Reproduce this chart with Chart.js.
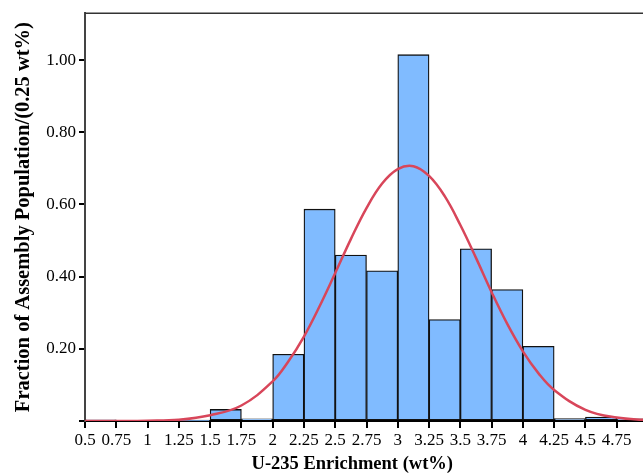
<!DOCTYPE html>
<html>
<head>
<meta charset="utf-8">
<script src="https://cdn.jsdelivr.net/npm/chart.js@4/dist/chart.umd.min.js"></script>
<style>
html,body{margin:0;padding:0;background:#fff;}
#wrap{width:643px;height:474px;position:relative;}
</style>
</head>
<body>
<div id="wrap"><canvas id="c" width="643" height="474"></canvas></div>
<script>
// Histogram bin centers (bin width 0.25 wt%)
const binCenters = [0.625,0.875,1.125,1.375,1.625,1.875,2.125,2.375,2.625,2.875,3.125,3.375,3.625,3.875,4.125,4.375,4.625,4.875];
const fractions  = [0.003,0,0,0.001,0.032,0.006,0.185,0.587,0.460,0.416,1.015,0.281,0.477,0.364,0.207,0.007,0.011,0.006];

// Fitted normal curve
const curveX = [0.5,0.75,1.0,1.25,1.5,1.75,2.0,2.125,2.25,2.375,2.5,2.625,2.75,2.875,3.0,3.125,3.25,3.375,3.5,3.625,3.75,3.875,4.0,4.125,4.25,4.5,4.75,5.0];
const curveY = [0.0,0.0001,0.0008,0.0035,0.016,0.043,0.110,0.165,0.234,0.318,0.410,0.504,0.590,0.658,0.698,0.706,0.679,0.623,0.543,0.452,0.357,0.269,0.193,0.132,0.086,0.031,0.0094,0.0023];

const xTicks = [0.5,0.75,1,1.25,1.5,1.75,2,2.25,2.5,2.75,3,3.25,3.5,3.75,4,4.25,4.5,4.75];
const yTicks = [0,0.2,0.4,0.6,0.8,1.0];

const xTitle = 'U-235 Enrichment (wt%)';
const yTitle = 'Fraction of Assembly Population/(0.25 wt%)';

const FONT = '"Liberation Serif", "Times New Roman", serif';

const framePlugin = {
  id: 'frame',
  afterDatasetsDraw(chart) {
    const {ctx, chartArea: a} = chart;
    ctx.save();
    ctx.strokeStyle = '#333';
    ctx.lineWidth = 1.5;
    ctx.beginPath();
    ctx.moveTo(a.left, a.top);
    ctx.lineTo(a.right, a.top);
    ctx.stroke();
    ctx.restore();
  },
  afterDraw(chart) {
    const {ctx} = chart;
    const xs = chart.scales.x;
    ctx.save();
    ctx.fillStyle = '#000';
    ctx.font = 'bold 18.5px ' + FONT;
    ctx.textAlign = 'center';
    ctx.textBaseline = 'middle';
    ctx.fillText(xTitle, xs.left + (xs.right - xs.left) * 0.479, 464);
    ctx.restore();
  }
};

new Chart(document.getElementById('c'), {
  data: {
    datasets: [
      {
        type: 'line',
        data: curveX.map((x, i) => ({x, y: curveY[i]})),
        borderColor: '#D8465A',
        borderWidth: 2.5,
        pointRadius: 0,
        tension: 0.4,
        fill: false,
        order: 0
      },
      {
        type: 'bar',
        data: binCenters.map((x, i) => ({x, y: fractions[i]})),
        backgroundColor: '#80BBFF',
        borderColor: '#111',
        borderWidth: 1.3,
        borderSkipped: false,
        barPercentage: 1,
        categoryPercentage: 1,
        order: 1
      }
    ]
  },
  options: {
    responsive: false,
    animation: false,
    layout: {padding: {top: 10, right: 0, left: 0, bottom: 0}},
    plugins: {legend: {display: false}, tooltip: {enabled: false}},
    scales: {
      x: {
        type: 'linear',
        offset: false,
        min: 0.5,
        max: 4.96,
        afterBuildTicks: s => { s.ticks = xTicks.map(v => ({value: v})); },
        afterFit: s => { s.height = 53; },
        grid: {display: true, offset: false, drawOnChartArea: false, drawTicks: true, tickLength: 7, color: '#000', lineWidth: 2},
        border: {display: true, color: '#000', width: 2},
        ticks: {
          color: '#000',
          padding: 2,
          maxRotation: 0,
          autoSkip: false,
          font: {family: FONT, size: 17},
          callback: v => String(v)
        },
        title: {display: false}
      },
      y: {
        type: 'linear',
        min: 0,
        max: 1.13,
        afterBuildTicks: s => { s.ticks = yTicks.map(v => ({value: v})); },
        afterFit: s => { s.width = 85; },
        grid: {display: true, drawOnChartArea: false, drawTicks: true, tickLength: 6, color: '#000', lineWidth: 2},
        border: {display: true, color: '#444', width: 2},
        ticks: {
          color: '#000',
          padding: 3,
          font: {family: FONT, size: 17},
          callback: v => v === 0 ? '' : Number(v).toFixed(2)
        },
        title: {display: true, text: yTitle, color: '#000', font: {family: FONT, size: 20.5, weight: 'bold'}, padding: {top: 11, bottom: 0}}
      }
    }
  },
  plugins: [framePlugin]
});
</script>
</body>
</html>
